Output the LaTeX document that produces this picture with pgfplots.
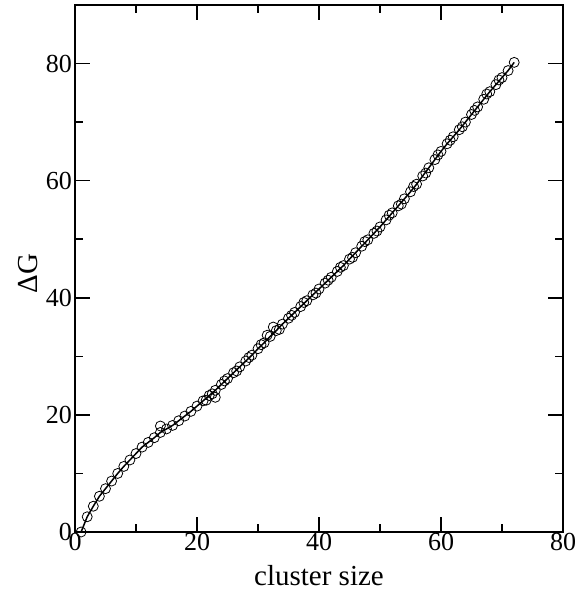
\documentclass[border=0pt]{standalone}
\usepackage{pgfplots}
\pgfplotsset{compat=1.18}
\usepackage{fontspec}
\setmainfont{Liberation Serif}

\begin{document}
\begin{tikzpicture}[x=1pt,y=1pt]
    \begin{axis}[
        scale only axis,
        width=488pt, height=527pt,
        xmin=0, xmax=80,
        ymin=0, ymax=90,
        xtick={0,20,40,60,80},
        ytick={0,20,40,60,80},
        minor xtick={10,30,50,70},
        minor ytick={10,30,50,70},
        tick align=inside,
        major tick length=15pt,
        minor tick length=8pt,
        every tick/.style={line width=1.5pt, black},
        axis line style={line width=1.8pt},
        tick label style={font=\fontsize{26}{26}\selectfont},
        label style={font=\fontsize{29}{29}\selectfont},
        /pgf/number format/assume math mode=true,
        xticklabel style={inner sep=1pt},
        yticklabel style={inner sep=3pt},
        xlabel={cluster size},
        ylabel={ΔG},
        xlabel style={at={(axis description cs:0.5,0)}, anchor=base, yshift=-53pt},
        ylabel style={at={(axis description cs:-0.096,0.49)}, anchor=center},
    ]
    \addplot[black, line width=1.5pt, mark=o, mark size=5pt, mark options={line width=0.8pt}]
    coordinates {
        (1,0)(2,2.6)(3,4.4)(4,6.1)(5,7.4)(6,8.7)(7,10.0)(8,11.2)(9,12.3)(10,13.4)
        (11,14.5)(12,15.3)(13,16.1)(14,17.0)(15,17.6)(16,18.2)(17,19.0)(18,19.8)(19,20.6)(20,21.5)
        (21,22.4)(22,23.3)(23,24.2)(24,25.2)(25,26.2)(26,27.2)(27,28.2)(28,29.2)(29,30.2)(30,31.3)
        (31,32.3)(32,33.4)(33,34.4)(34,35.5)(35,36.5)(36,37.5)(37,38.5)(38,39.5)(39,40.5)(40,41.5)
        (41,42.5)(42,43.5)(43,44.5)(44,45.5)(45,46.6)(46,47.7)(47,48.8)(48,49.9)(49,51.0)(50,52.1)
        (51,53.3)(52,54.5)(53,55.7)(54,56.9)(55,58.1)(56,59.4)(57,60.8)(58,62.2)(59,63.6)(60,65.0)
        (61,66.3)(62,67.5)(63,68.7)(64,70.0)(65,71.3)(66,72.6)(67,73.9)(68,75.2)(69,76.4)(70,77.6)
        (71,78.8)(72,80.2)
    };
    \addplot[black, line width=0.8pt, only marks, mark=o, mark size=5pt]
    coordinates {
        (14,18.1)(21.5,22.5)(22.5,23.6)(23,23.0)(24.5,25.8)(26.5,27.5)(28.5,29.8)
        (30.5,32.0)(31.5,33.6)(32.5,35.0)(33.5,34.6)(35.5,37.0)(37.5,39.2)(39.5,40.8)
        (41.5,43.0)(43.5,45.2)(45.5,46.9)(47.5,49.6)(49.5,51.4)(51.5,54.1)(53.5,56.0)
        (55.5,59.0)(57.5,61.3)(59.5,64.4)(61.5,66.9)(63.5,69.2)(65.5,72.0)(67.5,74.8)(69.5,77.2)
    };
    \end{axis}
    \pgfresetboundingbox
    \path (current axis.south west) ++(-75pt,-64pt) coordinate (bbA);
    \path (current axis.north east) ++(14pt,5pt) coordinate (bbB);
    \path[use as bounding box] (bbA) rectangle (bbB);
\end{tikzpicture}
\end{document}
